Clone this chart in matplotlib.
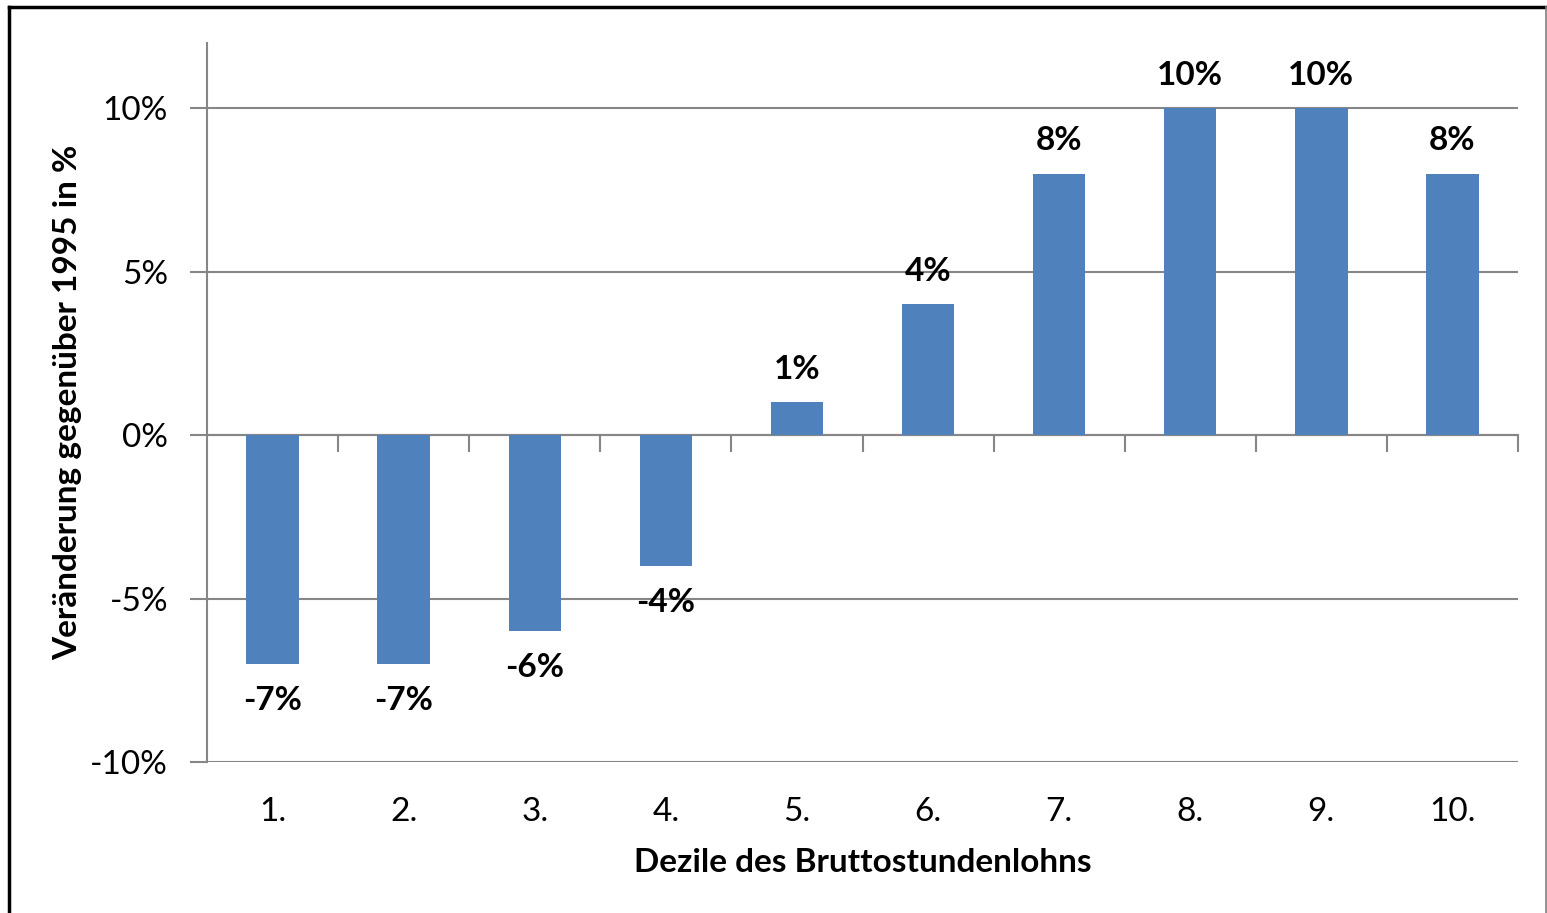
import matplotlib.pyplot as plt
from matplotlib.lines import Line2D
from matplotlib.ticker import FixedLocator, FuncFormatter

# Data: change of gross hourly wage vs. 1995, per decile
deciles = ['1.', '2.', '3.', '4.', '5.', '6.', '7.', '8.', '9.', '10.']
change = [-7, -7, -6, -4, 1, 4, 8, 10, 10, 8]
y_ticks = [-10, -5, 0, 5, 10]

BAR = '#4F81BD'
GRID = '#868686'
FS = 24

plt.rcParams['font.family'] = ['Lato', 'DejaVu Sans']

fig = plt.figure(figsize=(15.47, 9.13), dpi=100)
ax = fig.add_axes([207 / 1547, 1 - 762 / 913, 1311 / 1547, 719 / 913])

pos = list(range(1, len(deciles) + 1))
ax.bar(pos, change, width=0.4, color=BAR, zorder=3)

ymin, ymax = -10, 12
ax.set_xlim(0.5, len(deciles) + 0.5)
ax.set_ylim(ymin, ymax)

# y axis
ax.set_yticks(y_ticks)
ax.yaxis.set_major_formatter(FuncFormatter(lambda v, p: '%d%%' % v))
ax.tick_params(axis='y', direction='out', length=12, width=1.5, color=GRID,
               labelsize=FS, pad=16)
ax.grid(axis='y', color=GRID, linewidth=1.5, zorder=1)
ax.spines['left'].set_color(GRID)
ax.spines['left'].set_linewidth(1.5)
for s in ['top', 'right', 'bottom']:
    ax.spines[s].set_visible(False)

# category labels sit at the bottom, the axis line itself at 0
ax.set_xticks(pos)
ax.set_xticklabels(deciles)
ax.tick_params(axis='x', length=0, labelsize=FS, pad=25)

zero_ax = ax.secondary_xaxis((0 - ymin) / (ymax - ymin))
zero_ax.xaxis.set_major_locator(FixedLocator([p + 0.5 for p in pos]))
zero_ax.tick_params(axis='x', direction='out', length=12, width=1.5, color=GRID,
                    labelbottom=False, labeltop=False)
zero_ax.spines['bottom'].set_color(GRID)
zero_ax.spines['bottom'].set_linewidth(1.5)
zero_ax.spines['bottom'].set_zorder(4)

# value labels
for x, v in zip(pos, change):
    off = -26 if v < 0 else 24
    ax.annotate('%d%%' % v, (x, v), xytext=(0, off), textcoords='offset points',
                ha='center', va='center', fontsize=FS, fontweight='bold')

ax.set_ylabel('Veränderung gegenüber 1995 in %', fontsize=FS, fontweight='bold',
              labelpad=6)
ax.set_xlabel('Dezile des Bruttostundenlohns', fontsize=FS, fontweight='bold',
              labelpad=15)

# chart frame (bottom edge is cut off in the original)
W, H = 1547, 913
fig.lines.append(Line2D([9 / W, 9 / W], [0, 1 - 7 / H], transform=fig.transFigure,
                        color='black', linewidth=2.5))
fig.lines.append(Line2D([9 / W, 1546 / W], [1 - 7 / H, 1 - 7 / H],
                        transform=fig.transFigure, color='black', linewidth=2.5))
fig.lines.append(Line2D([1545.5 / W, 1545.5 / W], [0, 1 - 7 / H],
                        transform=fig.transFigure, color='#7f7f7f', linewidth=1.2))

fig.savefig('out.png', dpi=100)
